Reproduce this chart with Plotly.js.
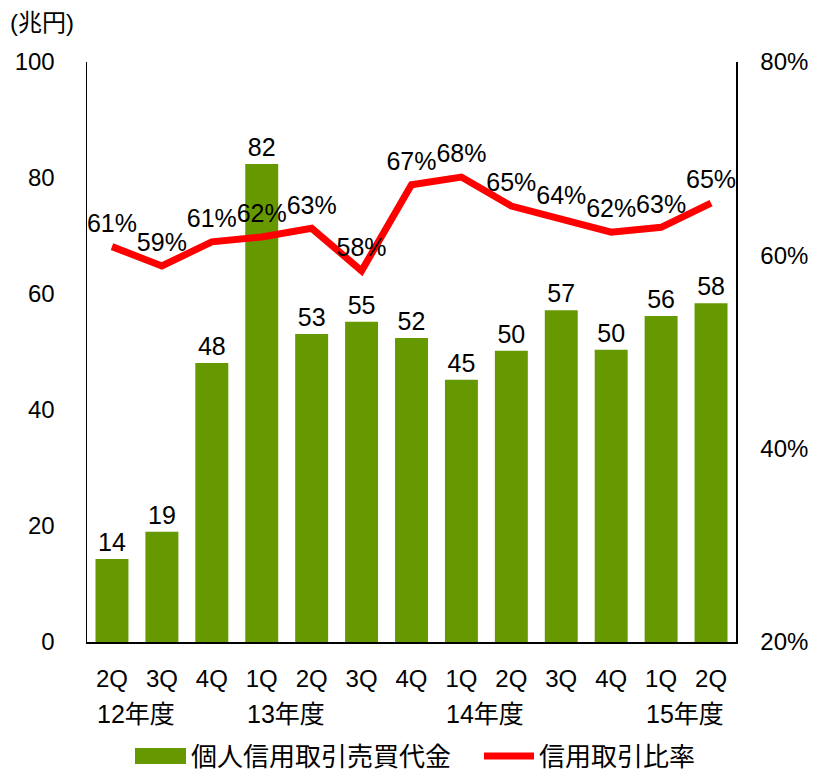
<!DOCTYPE html>
<html><head><meta charset="utf-8">
<script src="https://cdn.plot.ly/plotly-3.0.1.min.js"></script>
<style>html,body{margin:0;padding:0;background:#fff}#chart{width:817px;height:771px}</style>
</head><body><div id="chart"></div>
<script>
const quarters = ['2Q','3Q','4Q','1Q','2Q','3Q','4Q','1Q','2Q','3Q','4Q','1Q','2Q'];
const years = ['12年度','','','13年度','','','','14年度','','','','15年度',''];
const tradingValue = [14.3, 19.0, 48.1, 82.4, 53.1, 55.2, 52.4, 45.2, 50.2, 57.2, 50.4, 56.2, 58.4];
const marginRatio = [60.9, 58.9, 61.4, 61.9, 62.8, 58.4, 67.3, 68.1, 65.1, 63.8, 62.4, 62.9, 65.4];
const seriesNames = ['個人信用取引売買代金', '信用取引比率'];
const unitLabel = '(兆円)';

const FONT = 'Liberation Sans, Arial, Noto Sans CJK JP, sans-serif';
const idx = quarters.map((_, i) => i);
const GREEN = '#669900', RED = '#FF0000';

const traces = [
  {type:'bar', x: idx, y: tradingValue, name: seriesNames[0], marker:{color:GREEN},
   texttemplate:'%{y:.0f}', textposition:'outside', cliponaxis:false,
   textfont:{size:25, color:'#000', family:FONT}, showlegend:false, hoverinfo:'skip'},
  {type:'scatter', mode:'lines+markers+text', x: idx, y: marginRatio, yaxis:'y2', name: seriesNames[1],
   line:{color:RED, width:7}, marker:{size:12, opacity:0, color:RED},
   texttemplate:'%{y:.0f}%', textposition:'top center', cliponaxis:false,
   textfont:{size:25, color:'#000', family:FONT}, showlegend:false, hoverinfo:'skip'}
];

const annotations = [
  {xref:'paper', yref:'paper', x:-0.122, y:1.068, xanchor:'left', yanchor:'middle', text:unitLabel,
   showarrow:false, font:{size:24, family:FONT, color:'#000'}}
];
years.forEach((t, i) => {
  if (t) annotations.push({xref:'x', yref:'paper', x:i - 0.34, y:-0.124, xanchor:'left', yanchor:'middle',
    text:t, showarrow:false, font:{size:25, family:FONT, color:'#000'}});
});
// custom legend
annotations.push({xref:'paper', yref:'paper', x:(189-87)/649, y:-0.198, xanchor:'left', yanchor:'middle',
  text:seriesNames[0], showarrow:false, font:{size:26, family:FONT, color:'#000'}});
annotations.push({xref:'paper', yref:'paper', x:(537-87)/649, y:-0.198, xanchor:'left', yanchor:'middle',
  text:seriesNames[1], showarrow:false, font:{size:26, family:FONT, color:'#000'}});
const shapes = [
  {type:'rect', xref:'paper', yref:'paper', x0:(135-87)/649, x1:(186-87)/649, y0:(642-764)/580, y1:(642-748)/580,
   fillcolor:GREEN, line:{width:0}},
  {type:'line', xref:'paper', yref:'paper', x0:(484-87)/649, x1:(534-87)/649, y0:(642-756)/580, y1:(642-756)/580,
   line:{color:RED, width:7}}
];

const layout = {
  width:817, height:771,
  margin:{l:87, r:81, t:62, b:129},
  paper_bgcolor:'#fff', plot_bgcolor:'#fff',
  font:{family:FONT, size:24, color:'#000'},
  bargap:0.34,
  xaxis:{tickvals:idx, ticktext:quarters, range:[-0.5, 12.5], showgrid:false, zeroline:false,
    showline:true, linecolor:'#000', linewidth:2, ticks:'', ticklabelstandoff:14,
    tickfont:{size:24, family:FONT}},
  yaxis:{range:[0,100], dtick:20, showgrid:false, zeroline:false, showline:true, linecolor:'#000', linewidth:1.5,
    ticks:'', ticklabelstandoff:26, tickfont:{size:24, family:FONT}},
  yaxis2:{range:[20,80], dtick:20, overlaying:'y', side:'right', ticksuffix:'%', showgrid:false, zeroline:false,
    showline:true, linecolor:'#000', linewidth:1.5, ticks:'', ticklabelstandoff:18, tickfont:{size:24, family:FONT}},
  showlegend:false,
  annotations, shapes
};
Plotly.newPlot('chart', traces, layout, {staticPlot:true});
</script></body></html>
